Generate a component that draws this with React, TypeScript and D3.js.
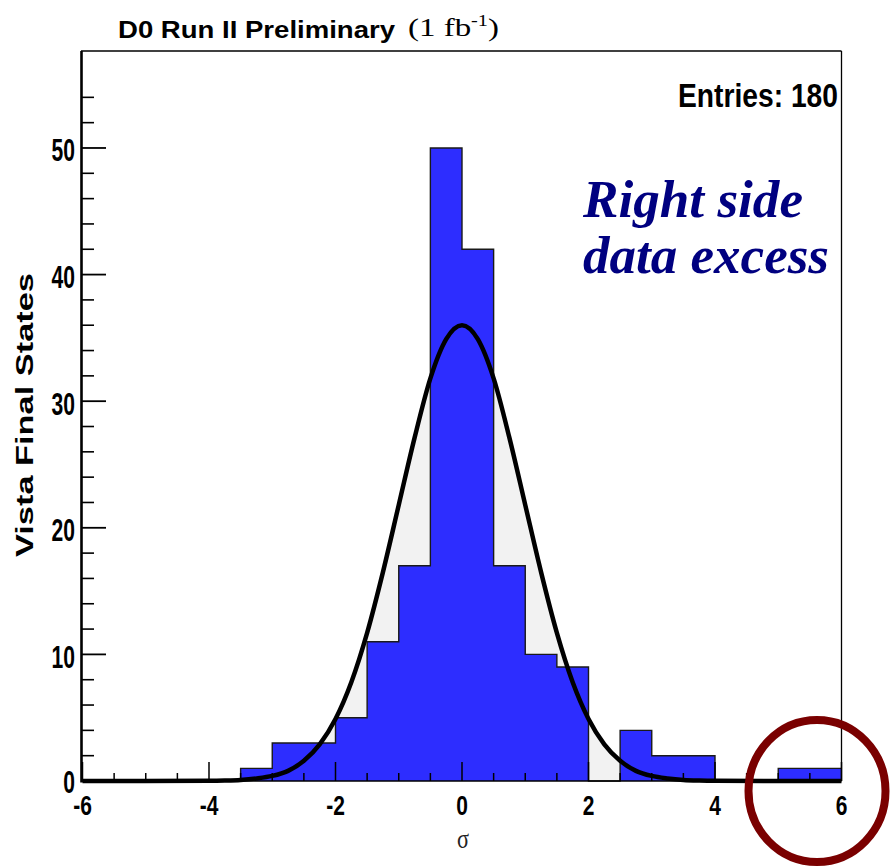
import React from 'react';
import * as d3 from 'd3';

// Histogram: lower bin edges (width 0.5) and data counts
const binStarts = [-6, -5.5, -5, -4.5, -4, -3.5, -3, -2.5, -2, -1.5, -1, -0.5, 0, 0.5, 1, 1.5, 2, 2.5, 3, 3.5, 4, 4.5, 5, 5.5];
const counts = [0, 0, 0, 0, 0, 1, 3, 3, 5, 11, 17, 50, 42, 17, 10, 9, 0, 4, 2, 2, 0, 0, 1, 1];
const binWidth = 0.5;

// Fitted expectation curve
const fitSigma = [-6, -4, -3.75, -3.5, -3.25, -3, -2.75, -2.5, -2.25, -2, -1.75, -1.5, -1.25, -1, -0.75, -0.5, -0.25, 0,
  0.25, 0.5, 0.75, 1, 1.25, 1.5, 1.75, 2, 2.25, 2.5, 2.75, 3, 3.25, 3.5, 3.75, 4, 6];
const fitValues = [0, 0.01, 0.03, 0.08, 0.2, 0.4, 0.8, 1.6, 2.9, 4.9, 7.8, 11.7, 16.5, 21.8, 27.1, 31.8, 34.9, 36.0,
  34.9, 31.8, 27.1, 21.8, 16.5, 11.7, 7.8, 4.9, 2.9, 1.6, 0.8, 0.4, 0.2, 0.08, 0.03, 0.01, 0];

const xTickLabels = [-6, -4, -2, 0, 2, 4, 6];
const xMinorTicks = [-6, -5.5, -5, -4.5, -4, -3.5, -3, -2.5, -2, -1.5, -1, -0.5, 0, 0.5, 1, 1.5, 2, 2.5, 3, 3.5, 4, 4.5, 5, 5.5, 6];
const yTickLabels = [0, 10, 20, 30, 40, 50];
const yMinorTicks = [2, 4, 6, 8, 12, 14, 16, 18, 22, 24, 26, 28, 32, 34, 36, 38, 42, 44, 46, 48, 52, 54];

const titleText = 'D0 Run II Preliminary';
const entriesText = 'Entries: 180';
const yTitle = 'Vista Final States';
const xTitle = 'σ';
const noteLines = ['Right side', 'data excess'];

export default function App() {
  const W = 892;
  const H = 867;
  const x = d3.scaleLinear().domain([-6, 6]).range([82.5, 841.5]);
  const y = d3.scaleLinear().domain([0, 57.66]).range([781, 51]);

  const histPts: [number, number][] = binStarts.map((b, i) => [b, counts[i]] as [number, number]);
  histPts.push([binStarts[binStarts.length - 1] + binWidth, counts[counts.length - 1]]);

  const histArea = d3.area<[number, number]>()
    .x(d => x(d[0])).y0(y(0)).y1(d => y(d[1]))
    .curve(d3.curveStepAfter);
  const histLine = d3.line<[number, number]>()
    .x(d => x(d[0])).y(d => y(d[1]))
    .curve(d3.curveStepAfter);

  const fitPts: [number, number][] = fitSigma.map((s, i) => [s, fitValues[i]] as [number, number]);
  const fitLine = d3.line<[number, number]>().x(d => x(d[0])).y(d => y(d[1])).curve(d3.curveMonotoneX);
  const fitArea = d3.area<[number, number]>().x(d => x(d[0])).y0(y(0)).y1(d => y(d[1])).curve(d3.curveMonotoneX);

  const sans = '"Liberation Sans", Arial, Helvetica, sans-serif';
  const serif = '"Liberation Serif", "Times New Roman", serif';

  const x1 = x(6);
  const yb = y(0);
  const yt = 51;

  return (
    <svg width={W} height={H} viewBox={`0 0 ${W} ${H}`}
      style={{ position: 'absolute', left: 0, top: 0, background: '#fff' }}>
      <rect x={0} y={0} width={W} height={H} fill="#fff" />

      {/* expected curve shading */}
      <path d={fitArea(fitPts) || ''} fill="#f2f2f2" stroke="none" />

      {/* data histogram */}
      <path d={histArea(histPts) || ''} fill="#2d2dff" stroke="none" />
      <path d={histLine(histPts) || ''} fill="none" stroke="#1a1a1a" strokeWidth={1.4} />

      {/* frame */}
      <line x1={81} x2={x1} y1={yt} y2={yt} stroke="#000" strokeWidth={1.6} />
      <line x1={x1} x2={x1} y1={yt} y2={yb} stroke="#000" strokeWidth={1.3} />
      <line x1={81} x2={x1} y1={yb} y2={yb} stroke="#000" strokeWidth={1.6} />
      <line x1={81.5} x2={81.5} y1={yt} y2={yb + 1.5} stroke="#000" strokeWidth={2.6} />

      {/* x ticks */}
      {xMinorTicks.map(t => {
        const major = xTickLabels.includes(t);
        return <line key={'xt' + t} x1={x(t)} x2={x(t)} y1={yb} y2={yb - (major ? 19 : 8)} stroke="#000" strokeWidth={1.5} />;
      })}
      {/* y ticks */}
      {yTickLabels.map(t => (
        <line key={'yT' + t} x1={82} x2={106} y1={y(t)} y2={y(t)} stroke="#000" strokeWidth={1.8} />
      ))}
      {yMinorTicks.map(t => (
        <line key={'yt' + t} x1={82} x2={94} y1={y(t)} y2={y(t)} stroke="#000" strokeWidth={1.6} />
      ))}

      {/* fit curve */}
      <path d={fitLine(fitPts) || ''} fill="none" stroke="#000" strokeWidth={4.5} strokeLinejoin="round" />

      {/* tick labels */}
      {xTickLabels.map(t => (
        <text key={'xl' + t} transform={`translate(${x(t)},815) scale(0.75,1)`} textAnchor="middle"
          fontFamily={sans} fontWeight="bold" fontSize={28} fill="#000">{String(t)}</text>
      ))}
      {yTickLabels.map(t => (
        <text key={'yl' + t} transform={`translate(75,${y(t) + (t === 0 ? 11.5 : 13.5)}) scale(0.68,1)`} textAnchor="end"
          fontFamily={sans} fontWeight="bold" fontSize={31} fill="#000">{String(t)}</text>
      ))}

      {/* axis titles */}
      <text x={463} y={848} textAnchor="middle" fontFamily={serif} fontSize={28} fill="#222"
        textLength={12} lengthAdjust="spacingAndGlyphs">{xTitle}</text>
      <text transform="translate(33,415) rotate(-90)" textAnchor="middle" fontFamily={sans} fontWeight="bold"
        fontSize={24} fill="#000" textLength={284} lengthAdjust="spacingAndGlyphs">{yTitle}</text>

      {/* title */}
      <text x={118} y={38} fontFamily={sans} fontWeight="bold" fontSize={24} fill="#000"
        textLength={277} lengthAdjust="spacingAndGlyphs">{titleText}</text>
      <text x={408} y={36} fontFamily={serif} fontSize={26} fill="#000" textLength={91} lengthAdjust="spacingAndGlyphs">
        (1 fb<tspan fontSize={16} dy={-10}>-1</tspan><tspan dy={10}>)</tspan>
      </text>

      {/* stats */}
      <text x={838} y={107} textAnchor="end" fontFamily={sans} fontWeight="bold" fontSize={34} fill="#000"
        textLength={160} lengthAdjust="spacingAndGlyphs">{entriesText}</text>

      {/* annotation */}
      <text x={583} y={217} fontFamily={serif} fontWeight="bold" fontStyle="italic" fontSize={53} fill="#000080"
        textLength={220} lengthAdjust="spacingAndGlyphs">{noteLines[0]}</text>
      <text x={583} y={273} fontFamily={serif} fontWeight="bold" fontStyle="italic" fontSize={53} fill="#000080"
        textLength={246} lengthAdjust="spacingAndGlyphs">{noteLines[1]}</text>

      {/* highlight ring */}
      <ellipse cx={817} cy={791} rx={68.5} ry={71} fill="none" stroke="#7a0000" strokeWidth={8} />
    </svg>
  );
}
